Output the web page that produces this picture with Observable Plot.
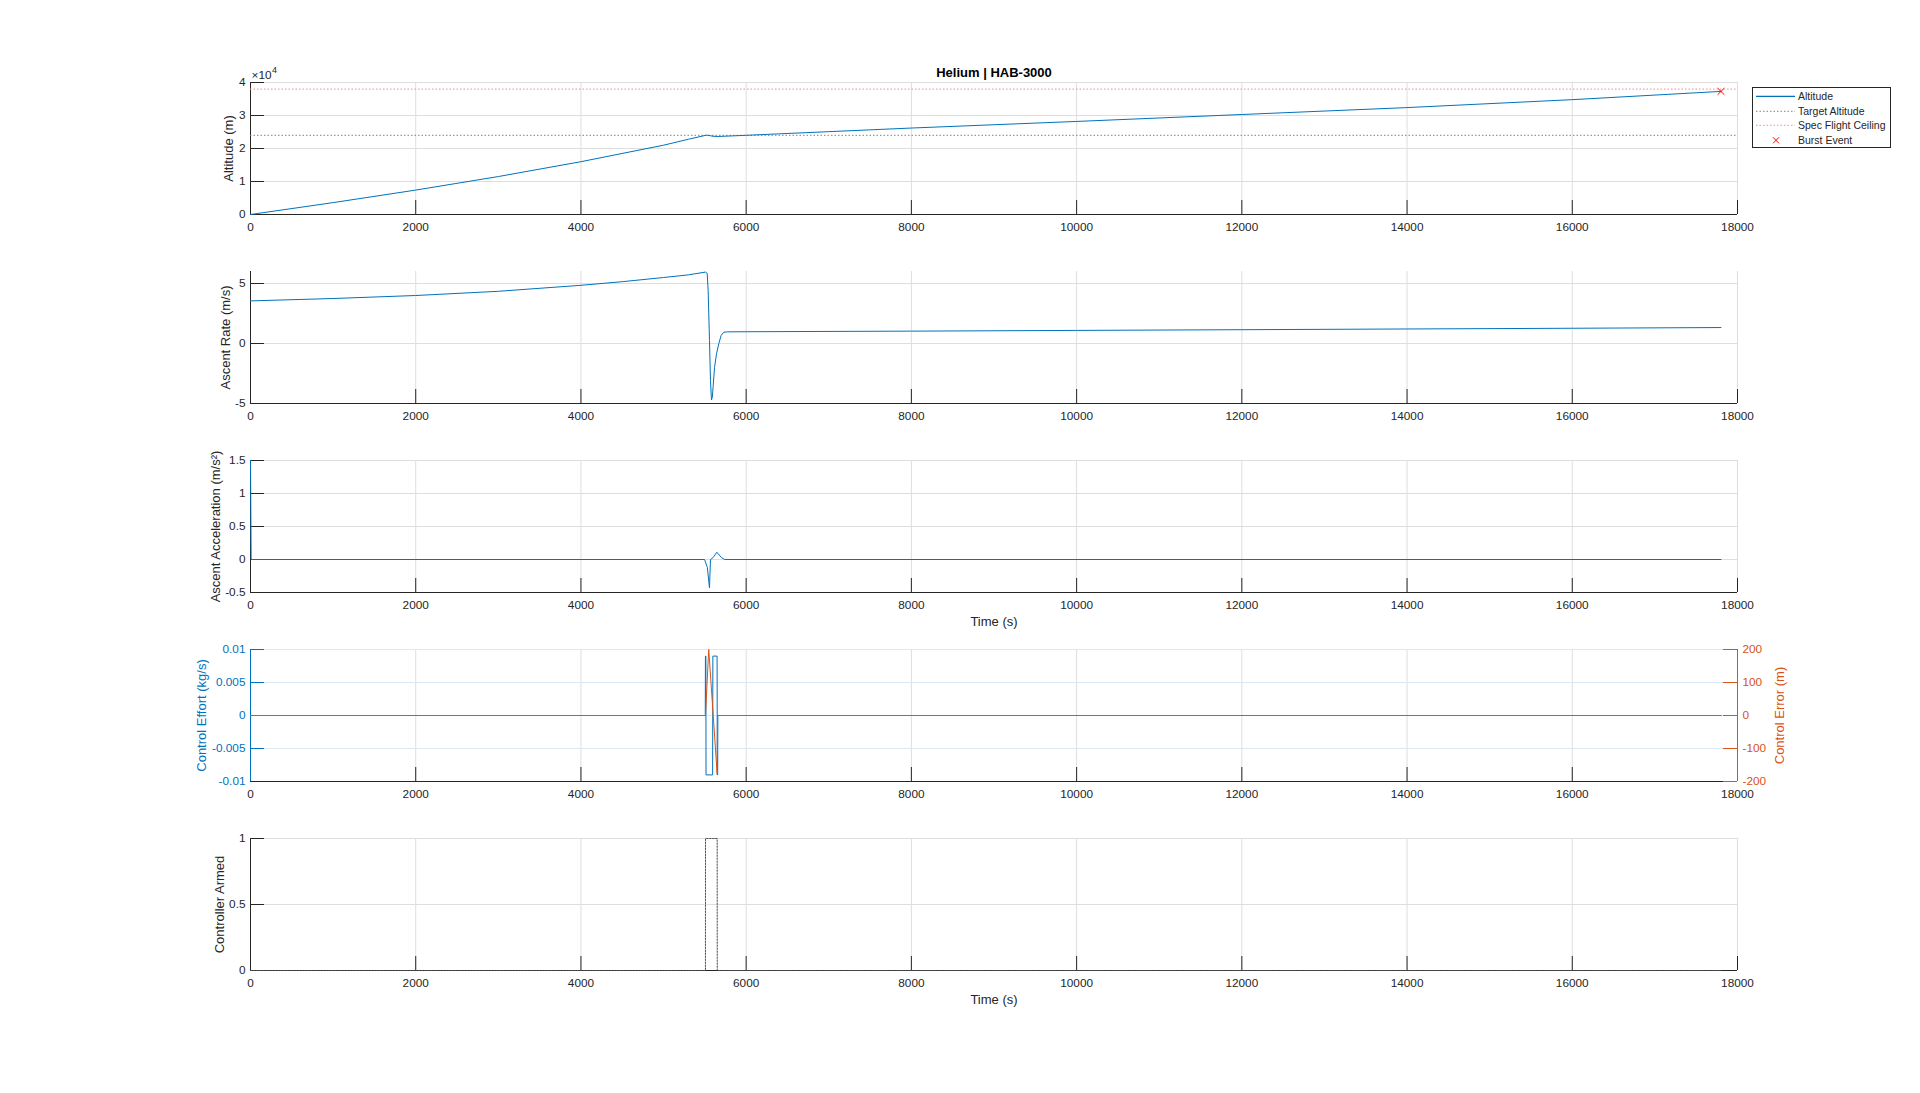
<!DOCTYPE html>
<html><head><meta charset="utf-8">
<script src="https://cdn.jsdelivr.net/npm/d3@7"></script>
<script src="https://cdn.jsdelivr.net/npm/@observablehq/plot@0.6"></script>
<style>
html,body{margin:0;padding:0;background:#fff;}
#root{position:relative;width:1920px;height:1093px;overflow:hidden;background:#fff;font-family:"Liberation Sans",Arial,Helvetica,sans-serif;}
.panel{position:absolute;left:0;}
#legend{position:absolute;left:1752px;top:87px;width:137px;height:59px;border:1px solid #262626;background:#fff;font-size:10.5px;color:#262626;}
.lrow{position:absolute;left:0;height:14.6px;width:137px;}
.lrow svg{position:absolute;left:0;top:0;}
.lrow span{position:absolute;left:45px;top:0;line-height:14.6px;white-space:nowrap;}
</style></head><body><div id="root"></div>
<script>
// ---------- data ----------
const xTicks = [0, 2000, 4000, 6000, 8000, 10000, 12000, 14000, 16000, 18000];
const altTicks = [0, 10000, 20000, 30000, 40000];
const rateTicks = [-5, 0, 5];
const accTicks = [-0.5, 0, 0.5, 1, 1.5];
const effTicks = [-0.01, -0.005, 0, 0.005, 0.01];
const errTicks = [-200, -100, 0, 100, 200];
const armTicks = [0, 0.5, 1];

const altT = [0, 1000, 2000, 3000, 4000, 5000, 5300, 5520, 5560, 5600, 5660, 5720, 6000, 7000, 8000, 10000, 12000, 14000, 16000, 17800];
const altV = [0, 3600, 7400, 11500, 16000, 21000, 22800, 24050, 23900, 23700, 23650, 23700, 24000, 25100, 26200, 28200, 30300, 32400, 34800, 37300];
const targetAlt = [24000];
const ceilingAlt = [38000];
const burstT = [17800];
const burstV = [37300];

const rateT = [0, 1000, 2000, 3000, 4000, 4500, 5000, 5300, 5508, 5528, 5540, 5556, 5568, 5580, 5590, 5600, 5617, 5641, 5669, 5697, 5729, 5770, 6000, 8000, 10000, 12000, 14000, 16000, 17800];
const rateV = [3.55, 3.75, 4.0, 4.35, 4.85, 5.15, 5.5, 5.72, 5.95, 5.85, 4.4, 0.25, -3.1, -4.7, -4.5, -3.6, -2.0, -0.86, 0.0, 0.67, 0.94, 0.97, 0.98, 1.03, 1.09, 1.15, 1.21, 1.27, 1.33];

const accT = [0, 8, 5497, 5530, 5556, 5568, 5600, 5645, 5700, 5740, 17800];
const accV = [1.5, 0, 0, -0.12, -0.43, 0, 0.03, 0.11, 0.03, 0, 0];

const effT = [0, 5505, 5507, 5512, 5514, 5594, 5597, 5648, 5651, 5655, 5657, 17800];
const effV = [0, 0, 0.009, 0.009, -0.009, -0.009, 0.009, 0.009, -0.009, -0.009, 0, 0];

const errT = [0, 5507, 5547, 5649, 5653, 17800];
const errV = [0, 0, 200, -177, 0, 0];

const armT = [0, 5507, 5508, 5649, 5650, 17800];
const armV = [0, 0, 1, 1, 0, 0];

const legendLabels = ["Altitude", "Target Altitude", "Spec Flight Ceiling", "Burst Event"];

// ---------- layout / style ----------
const W = 1920, ML = 250, MR = 183, MT = 30, MB = 45, PH = 132;
const FONT = '"Liberation Sans", Arial, Helvetica, sans-serif';
const AX = "#262626", GRID = "#dedede";
const BLUE = "#0072BD", ORANGE = "#D95319";
const XMAX = 18000;
const TICKFS = "11.8px", LABFS = 13;
const xTickLen = 14 / (W - ML - MR) * XMAX;
const tops = [82, 271, 460, 649, 838];
const root = document.getElementById("root");

const zip = (ts, vs) => ts.map((t, i) => ({t, v: vs[i]}));

function place(svg, top) {
  svg.classList.add("panel");
  svg.style.top = (top - MT) + "px";
  root.appendChild(svg);
}

function panel({top, domain, ticks, fmt, label, labelDx, labelColor = AX, axisColor = AX, gridY = GRID, data = [], extra = [], xlabel = false}) {
  const yTickLen = (domain[1] - domain[0]) * 14 / PH;
  const marks = [
    Plot.gridX(xTicks, {stroke: GRID, strokeOpacity: 1}),
    Plot.gridY(ticks, {stroke: gridY, strokeOpacity: 1}),
    Plot.ruleX(xTicks, {x: d => d, y1: domain[0], y2: domain[0] + yTickLen, stroke: AX}),
    Plot.ruleY(ticks, {y: d => d, x1: 0, x2: xTickLen, stroke: axisColor}),
    Plot.ruleY([domain[0]], {stroke: AX}),
    Plot.ruleX([0], {stroke: axisColor}),
    ...data,
    Plot.axisX(xTicks, {tickSize: 0, tickPadding: 8, tickFormat: d => String(d), label: null, color: AX}),
    Plot.axisY(ticks, {tickSize: 0, tickPadding: 5, tickFormat: fmt, label: null, color: axisColor}),
    Plot.text([label], {frameAnchor: "left", text: d => d, rotate: -90, dx: labelDx, textAnchor: "middle", lineAnchor: "middle", fill: labelColor, fontSize: LABFS}),
    ...extra
  ];
  if (xlabel) marks.push(Plot.text(["Time (s)"], {frameAnchor: "bottom", text: d => d, dy: 29, textAnchor: "middle", lineAnchor: "middle", fill: AX, fontSize: LABFS}));
  const svg = Plot.plot({
    width: W, height: MT + PH + MB,
    marginLeft: ML, marginRight: MR, marginTop: MT, marginBottom: MB,
    x: {domain: [0, XMAX]},
    y: {domain},
    style: {background: "transparent", fontFamily: FONT, fontSize: TICKFS, color: AX, overflow: "visible"},
    marks
  });
  place(svg, top);
}

// Panel 1: Altitude
panel({
  top: tops[0], domain: [0, 40000], ticks: altTicks, fmt: d => String(d / 1e4),
  label: "Altitude (m)", labelDx: -22,
  data: [
    Plot.ruleY(targetAlt, {y: d => d, stroke: "#808080", strokeDasharray: "1.5,2"}),
    Plot.ruleY(ceilingAlt, {y: d => d, stroke: "#f08a8a", strokeDasharray: "1.5,2"}),
    Plot.line(zip(altT, altV), {x: "t", y: "v", stroke: BLUE, strokeWidth: 1}),
    Plot.dot(zip(burstT, burstV), {x: "t", y: "v", symbol: "times", stroke: "#ff0000", r: 3.2, strokeWidth: 1})
  ],
  extra: [
    Plot.text(["Helium | HAB-3000"], {frameAnchor: "top", text: d => d, dy: -10, textAnchor: "middle", lineAnchor: "middle", fontWeight: "bold", fontSize: 13, fill: "#000"}),
    Plot.text(["×10"], {frameAnchor: "top-left", text: d => d, dy: -7, dx: 1, textAnchor: "start", lineAnchor: "middle", fill: AX, fontSize: 11.8}),
    Plot.text(["4"], {frameAnchor: "top-left", text: d => d, dy: -12, dx: 21.5, textAnchor: "start", lineAnchor: "middle", fill: AX, fontSize: 9})
  ]
});

// Panel 2: Ascent rate
panel({
  top: tops[1], domain: [-5, 6], ticks: rateTicks, fmt: d => String(d),
  label: "Ascent Rate (m/s)", labelDx: -25,
  data: [Plot.line(zip(rateT, rateV), {x: "t", y: "v", stroke: BLUE, strokeWidth: 1})]
});

// Panel 3: Ascent acceleration
panel({
  top: tops[2], domain: [-0.5, 1.5], ticks: accTicks, fmt: d => String(d),
  label: "Ascent Acceleration (m/s²)", labelDx: -35, xlabel: true,
  data: [Plot.line(zip(accT, accV), {x: "t", y: "v", stroke: BLUE, strokeWidth: 1})]
});

// Panel 4: Control effort (left)
panel({
  top: tops[3], domain: [-0.01, 0.01], ticks: effTicks, fmt: d => String(d),
  label: "Control Effort (kg/s)", labelDx: -49, labelColor: BLUE, axisColor: BLUE, gridY: "#d9eaf5",
  data: [Plot.line(zip(effT, effV), {x: "t", y: "v", stroke: BLUE, strokeWidth: 1})]
});

// Panel 4: Control error (right axis overlay)
{
  const domain = [-200, 200];
  const svg = Plot.plot({
    width: W, height: MT + PH + MB,
    marginLeft: ML, marginRight: MR, marginTop: MT, marginBottom: MB,
    x: {domain: [0, XMAX], axis: null},
    y: {domain},
    style: {background: "transparent", fontFamily: FONT, fontSize: TICKFS, color: AX, overflow: "visible"},
    marks: [
      Plot.line(zip(errT, errV), {x: "t", y: "v", stroke: ORANGE, strokeWidth: 1}),
      Plot.ruleX([XMAX], {stroke: ORANGE}),
      Plot.ruleY(errTicks, {y: d => d, x1: XMAX - xTickLen, x2: XMAX, stroke: ORANGE}),
      Plot.axisY(errTicks, {anchor: "right", tickSize: 0, tickPadding: 5, tickFormat: d => String(d), label: null, color: ORANGE}),
      Plot.text(["Control Error (m)"], {frameAnchor: "right", text: d => d, rotate: -90, dx: 42, textAnchor: "middle", lineAnchor: "middle", fill: ORANGE, fontSize: LABFS})
    ]
  });
  place(svg, tops[3]);
}

// Panel 5: Controller armed
panel({
  top: tops[4], domain: [0, 1], ticks: armTicks, fmt: d => String(d),
  label: "Controller Armed", labelDx: -31, xlabel: true,
  data: [Plot.line(zip(armT, armV), {x: "t", y: "v", stroke: "#4d4d4d", strokeWidth: 1, strokeDasharray: "1.5,1.5"})]
});

// ---------- legend ----------
const leg = document.createElement("div");
leg.id = "legend";
const samples = [
  '<line x1="3" y1="7.3" x2="42" y2="7.3" stroke="' + BLUE + '" stroke-width="1.3"/>',
  '<line x1="3" y1="7.3" x2="42" y2="7.3" stroke="#808080" stroke-width="1" stroke-dasharray="1.5,2"/>',
  '<line x1="3" y1="7.3" x2="42" y2="7.3" stroke="#f08a8a" stroke-width="1" stroke-dasharray="1.5,2"/>',
  '<path d="M20,4.3L26,10.3M26,4.3L20,10.3" stroke="#ff0000" stroke-width="1" fill="none"/>'
];
legendLabels.forEach((lab, i) => {
  const row = document.createElement("div");
  row.className = "lrow";
  row.style.top = (1 + i * 14.6) + "px";
  row.innerHTML = '<svg width="44" height="14.6">' + samples[i] + '</svg><span>' + lab + '</span>';
  leg.appendChild(row);
});
root.appendChild(leg);
</script>
</body></html>
